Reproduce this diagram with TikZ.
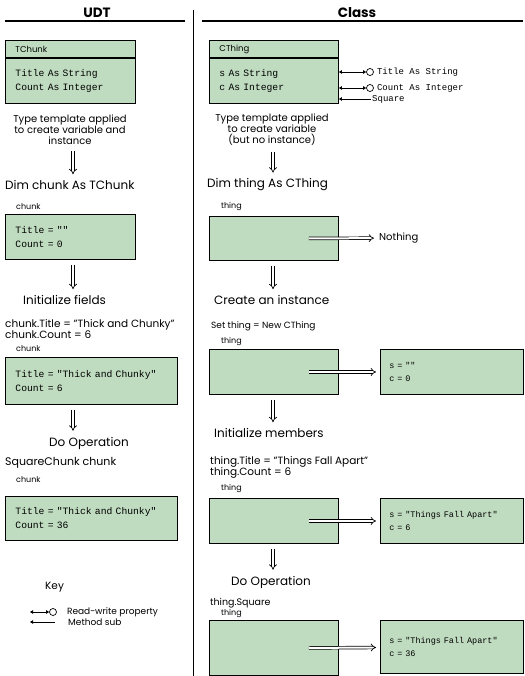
\documentclass[tikz,border=0pt]{standalone}
\usepackage{fontspec}
\setmainfont{Poppins}
\setmonofont{Liberation Mono}
\usetikzlibrary{arrows.meta,positioning}
\definecolor{boxgreen}{RGB}{192,220,192}

\begin{document}
\begin{tikzpicture}[x=1pt,y=-1pt,
	box/.style={draw,fill=boxgreen,line width=0.9pt,anchor=north west,inner xsep=10pt,inner ysep=2pt,minimum height=45pt,align=left,text width=#1,font=\ttfamily\fontsize{9.7}{14}\selectfont},
	obj/.style={box=125pt,inner xsep=9pt,font=\ttfamily\fontsize{8.5}{13}\selectfont},
	hd/.style={box=#1,minimum height=17pt,inner xsep=10pt,font=\fontsize{8.5}{10}\selectfont},
	head/.style={font=\bfseries\fontsize{13.5}{15}\selectfont},
	lbl/.style={anchor=west,inner sep=1pt,font=\fontsize{12}{14}\selectfont},
	sml/.style={anchor=west,inner sep=1pt,font=\fontsize{#1}{11}\selectfont},
	sml/.default=10,
	var/.style={anchor=west,inner sep=1pt,font=\fontsize{8}{10}\selectfont},
	prop/.style={anchor=west,inner sep=1pt,font=\ttfamily\fontsize{9}{10}\selectfont},
	tiny/.style={anchor=west,inner sep=1pt,font=\fontsize{9}{10}\selectfont},
	circ/.style={draw,circle,line width=0.7pt,minimum size=7pt,inner sep=0pt},
	rw/.style={line width=0.8pt,{Triangle[length=3pt,width=3.5pt]}-{Triangle[length=3pt,width=3.5pt]}},
	ms/.style={line width=0.8pt,{Triangle[length=3pt,width=3.5pt]}-},
	dbl/.style={double,double distance=2pt,line width=0.7pt,-{Implies},shorten <=5pt,shorten >=5pt},
	dblr/.style={double,double distance=2pt,line width=0.7pt,-{Implies},shorten >=4pt}]
	\useasboundingbox (0,0) rectangle (524,676);
	\node[head] (h_udt) at (97,13) {UDT};
	\node[head] (h_cls) at (357,13) {Class};
	\draw[line width=1.4pt] (5,21) -- (185,21) (202,21) -- (523,21);
	\draw[line width=1pt] (193,10) -- (193,676);
	\coordinate (u_x) at (73,0);
	\coordinate (c_x) at (273,0);

	\node[hd=110pt] (u_hd) at (5,40) {TChunk};
	\node[box=110pt] (u_def) at (u_hd.south west) {Title As String\\Count As Integer};
	\node[sml,anchor=center,align=center] (u_tpl) at (70,130) {Type template applied\\to create variable and\\instance};
	\node[lbl] (u_dim) at (4,185) {Dim chunk As TChunk};
	\node[var] (u_n1) at (15,207) {chunk};
	\node[box=110pt] (u_b1) at (5,214) {Title = ""\\Count = 0};
	\node[lbl] (u_init) at (22,300) {Initialize fields};
	\node[sml=10.5,anchor=north west,align=left] (u_set) at (4,318) {chunk.Title = "Thick and Chunky"\\chunk.Count = 6};
	\node[var] (u_n2) at (15,349) {chunk};
	\node[box=152pt,minimum height=47pt] (u_b2) at (5,357) {Title = "Thick and Chunky"\\Count = 6};
	\node[lbl] (u_op) at (48,443) {Do Operation};
	\node[sml=11] (u_sq) at (4,463) {SquareChunk chunk};
	\node[var] (u_n3) at (15,480) {chunk};
	\node[box=152pt,minimum height=44pt] (u_b3) at (5,496) {Title = "Thick and Chunky"\\Count = 36};
	\draw[dbl] (u_x |- u_tpl.south) -- (u_x |- u_dim.north);
	\draw[dbl] (u_x |- u_b1.south) -- (u_x |- u_init.north);
	\draw[dbl] (u_x |- u_b2.south) -- (u_x |- u_op.north);

	\node[lbl,font=\fontsize{10.5}{12}\selectfont] (k_hd) at (44,587) {Key};
	\coordinate (k_a) at (30,612);
	\node[circ] (k_o) at (53,612) {};
	\node[tiny,right=9pt of k_o] (k_rw) {Read-write property};
	\coordinate (k_b) at (30,622);
	\coordinate (k_c) at (55,622);
	\node[tiny] (k_ms) at (67,622) {Method sub};
	\draw[rw] (k_a) -- (k_o);
	\draw[ms] (k_b) -- (k_c);

	\node[hd=109pt] (c_hd) at (209,40) {CThing};
	\node[box=109pt] (c_def) at (c_hd.south west) {s As String\\c As Integer};
	\node[circ] (c_o1) at (370,72) {};
	\node[circ] (c_o2) at (370,88) {};
	\node[prop,right=2pt of c_o1] (c_p1) {Title As String};
	\node[prop,right=2pt of c_o2] (c_p2) {Count As Integer};
	\node[prop] (c_m1) at (371,99) {Square};
	\draw[rw] (c_def.east |- c_o1) -- (c_o1);
	\draw[rw] (c_def.east |- c_o2) -- (c_o2);
	\draw[ms] (c_def.east |- c_m1) -- (c_m1);
	\node[sml,anchor=center,align=center] (c_tpl) at (272,130) {Type template applied\\to create variable\\(but no instance)};
	\node[lbl] (c_dim) at (206,185) {Dim thing As CThing};
	\node[var] (c_n1) at (220,207) {thing};
	\node[box=109pt,minimum height=44pt] (c_b1) at (209,216) {};
	\node[sml] (c_nil) at (378,238) {Nothing};
	\node[lbl] (c_new) at (213,300) {Create an instance};
	\node[sml=9] (c_set) at (210,326) {Set thing = New CThing};
	\node[var] (c_n2) at (220,342) {thing};
	\node[box=109pt] (c_b2) at (209,349) {};
	\node[obj] (c_v1) at (380,349) {s = ""\\c = 0};
	\node[lbl] (c_init) at (213,433) {Initialize members};
	\node[sml=10.5,anchor=north west,align=left] (c_ttl) at (209,455) {thing.Title = "Things Fall Apart"\\thing.Count = 6};
	\node[var] (c_n3) at (220,489) {thing};
	\node[box=109pt] (c_b3) at (209,498) {};
	\node[obj] (c_v2) at (380,498) {s = "Things Fall Apart"\\c = 6};
	\node[lbl] (c_op) at (230,582) {Do Operation};
	\node[sml=9.5] (c_sq) at (209,603) {thing.Square};
	\node[var] (c_n4) at (220,614) {thing};
	\node[box=109pt,minimum height=55pt] (c_b4) at (209,620) {};
	\node[obj,minimum height=53pt] (c_v3) at (380,620) {s = "Things Fall Apart"\\c = 36};
	\draw[dbl] (c_x |- c_tpl.south) -- (c_x |- c_dim.north);
	\draw[dbl] (c_x |- c_b1.south) -- (c_x |- c_new.north);
	\draw[dbl] (c_x |- c_b2.south) -- (c_x |- c_init.north);
	\draw[dbl] (c_x |- c_b3.south) -- (c_x |- c_op.north);
	\draw[dblr] ([xshift=-30pt]c_b1.east) -- (c_nil);
	\draw[dblr] ([xshift=-30pt]c_b2.east) -- (c_v1);
	\draw[dblr] ([xshift=-30pt]c_b3.east) -- (c_v2);
	\draw[dblr] ([xshift=-30pt]c_b4.east) -- (c_v3);
\end{tikzpicture}
\end{document}
